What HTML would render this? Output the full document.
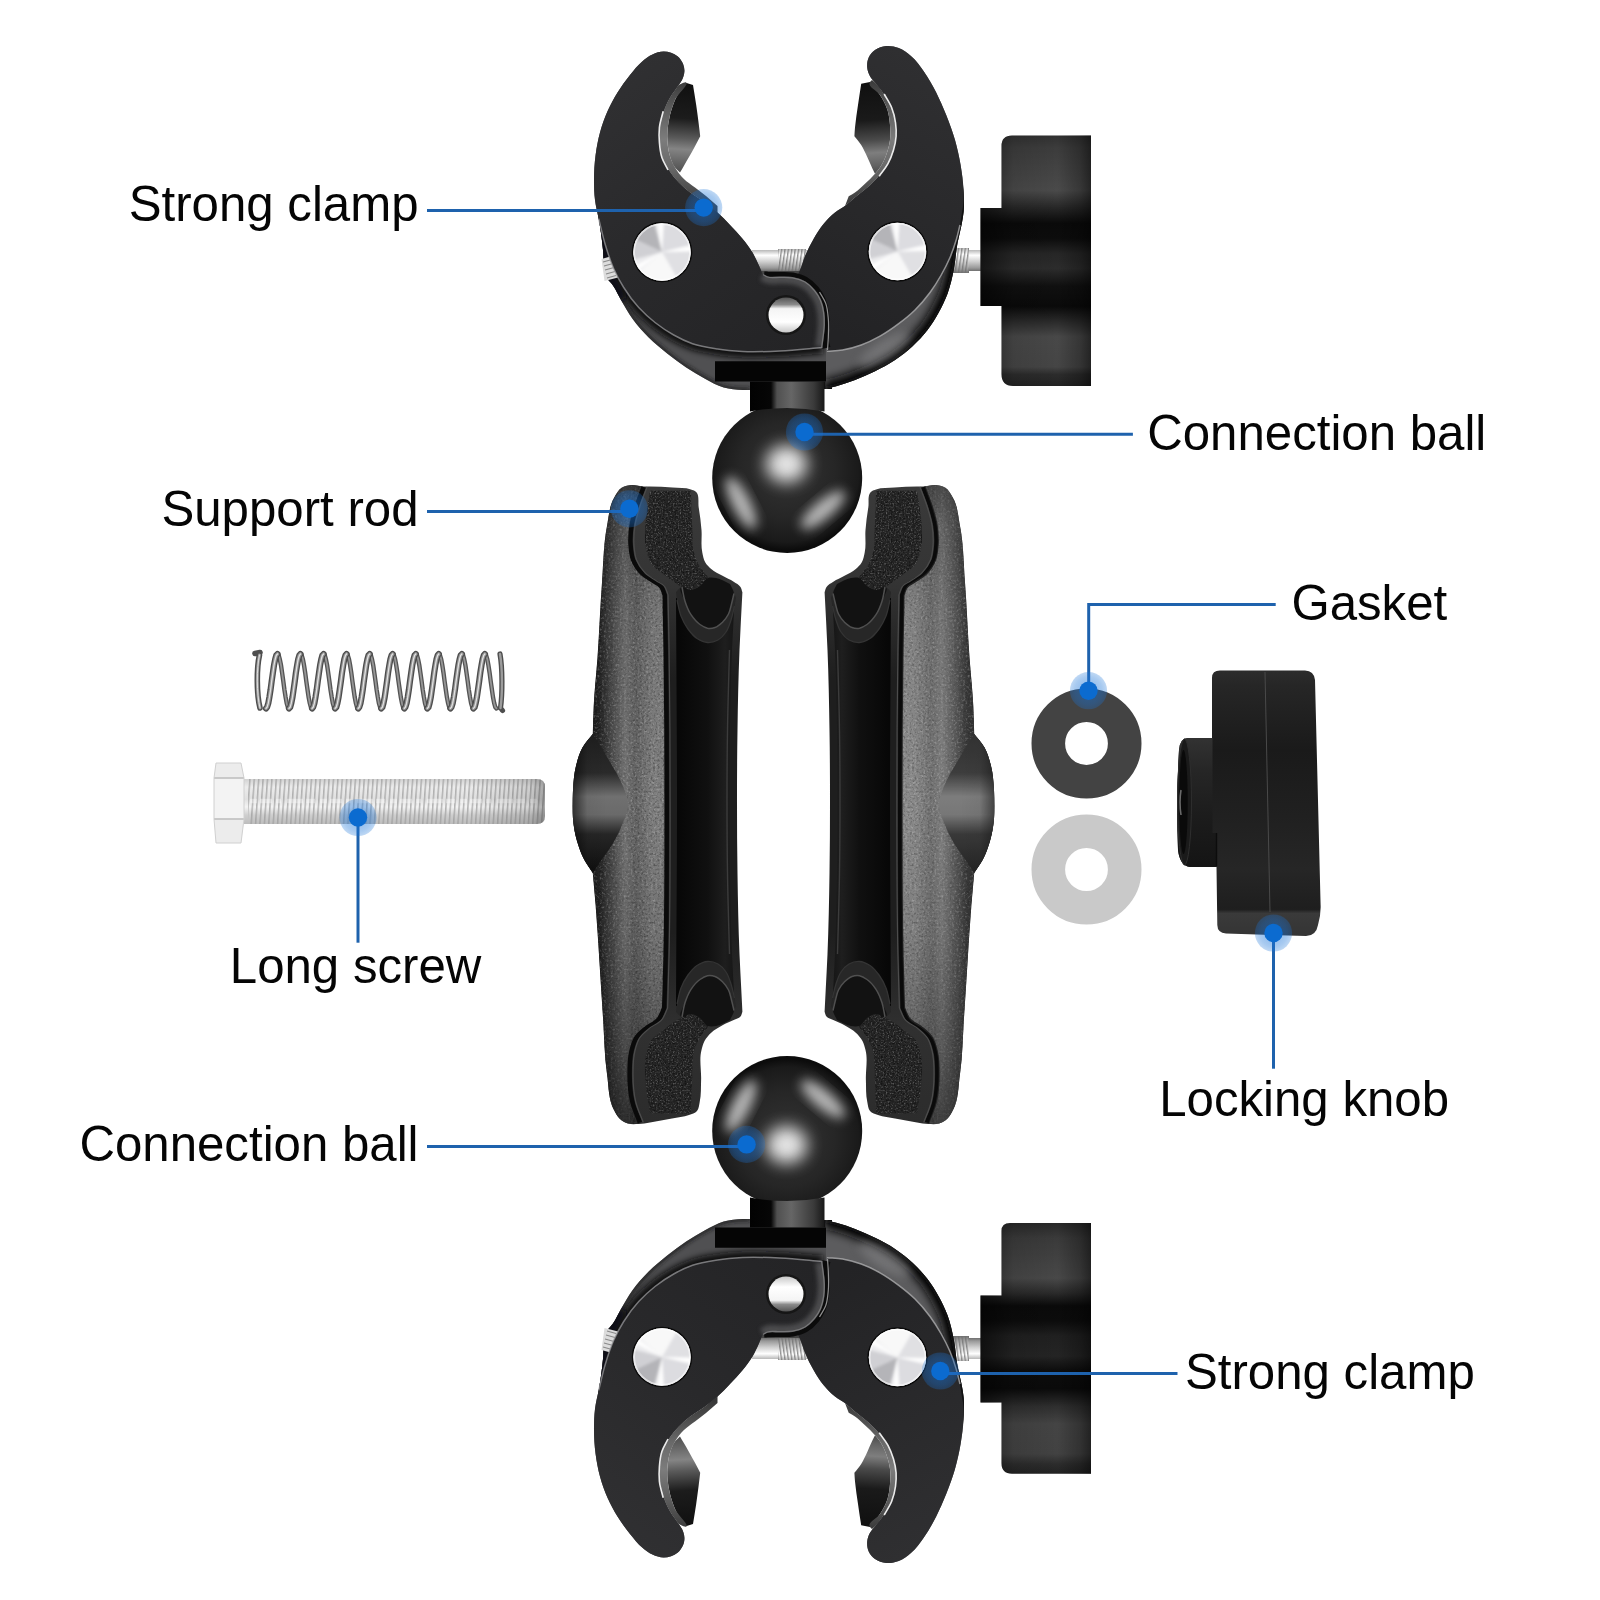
<!DOCTYPE html>
<html lang="en">
<head>
<meta charset="utf-8">
<title>Clamp mount parts</title>
<style>
html,body{margin:0;padding:0;background:#fff;}
body{width:1600px;height:1600px;overflow:hidden;position:relative;font-family:"Liberation Sans",Arial,sans-serif;}
svg{position:absolute;left:0;top:0;display:block;}
.lbl{font-family:"Liberation Sans",Arial,sans-serif;font-size:49.2px;fill:#050505;}
.ln{stroke:#1e62ad;stroke-width:3;fill:none;}
</style>
</head>
<body>
<svg width="1600" height="1600" viewBox="0 0 1600 1600">
<defs>
<radialGradient id="halo" cx="0.5" cy="0.5" r="0.5">
  <stop offset="0" stop-color="#1a74d8" stop-opacity="0.55"/>
  <stop offset="0.75" stop-color="#1a74d8" stop-opacity="0.38"/>
  <stop offset="1" stop-color="#1a74d8" stop-opacity="0.28"/>
</radialGradient>
<g id="dot">
  <circle r="18.6" fill="url(#halo)"/>
  <circle r="9.2" fill="#0b6bd0"/>
</g>

<!-- clamp gradients -->
<linearGradient id="gFaceL" gradientUnits="userSpaceOnUse" x1="600" y1="80" x2="800" y2="350">
  <stop offset="0" stop-color="#303032"/><stop offset="0.5" stop-color="#29292b"/><stop offset="1" stop-color="#242426"/>
</linearGradient>
<linearGradient id="gFaceR" gradientUnits="userSpaceOnUse" x1="830" y1="330" x2="960" y2="80">
  <stop offset="0" stop-color="#232325"/><stop offset="0.5" stop-color="#29292b"/><stop offset="1" stop-color="#2f2f31"/>
</linearGradient>
<linearGradient id="gThickR" gradientUnits="userSpaceOnUse" x1="880" y1="300" x2="915" y2="350">
  <stop offset="0" stop-color="#707072"/><stop offset="0.35" stop-color="#58585a"/><stop offset="0.7" stop-color="#2a2a2c"/><stop offset="1" stop-color="#0e0e10"/>
</linearGradient>
<linearGradient id="gThickL" gradientUnits="userSpaceOnUse" x1="690" y1="320" x2="672" y2="352">
  <stop offset="0" stop-color="#5a5a5c"/><stop offset="0.4" stop-color="#3e3e40"/><stop offset="1" stop-color="#121214"/>
</linearGradient>
<linearGradient id="gPadL" gradientUnits="userSpaceOnUse" x1="690" y1="84" x2="684" y2="175">
  <stop offset="0" stop-color="#101010"/><stop offset="0.38" stop-color="#1c1c1c"/><stop offset="0.6" stop-color="#5a5a5a"/><stop offset="0.72" stop-color="#848484"/><stop offset="0.85" stop-color="#686868"/><stop offset="1" stop-color="#4a4a4a"/>
</linearGradient>
<linearGradient id="gPadR" gradientUnits="userSpaceOnUse" x1="864" y1="84" x2="870" y2="175">
  <stop offset="0" stop-color="#101010"/><stop offset="0.4" stop-color="#1a1a1a"/><stop offset="0.62" stop-color="#4a4a4a"/><stop offset="0.76" stop-color="#7e7e7e"/><stop offset="0.9" stop-color="#626262"/><stop offset="1" stop-color="#484848"/>
</linearGradient>
<linearGradient id="gPad" gradientUnits="userSpaceOnUse" x1="0" y1="82" x2="0" y2="200">
  <stop offset="0" stop-color="#141414"/><stop offset="0.3" stop-color="#1c1c1c"/><stop offset="0.52" stop-color="#6a6a6a"/><stop offset="0.62" stop-color="#3a3a3a"/><stop offset="1" stop-color="#1a1a1a"/>
</linearGradient>
<linearGradient id="gBand" gradientUnits="userSpaceOnUse" x1="0" y1="80" x2="0" y2="212">
  <stop offset="0" stop-color="#3a3a3a"/><stop offset="0.2" stop-color="#5a5a5a"/><stop offset="0.45" stop-color="#7c7c7c"/><stop offset="0.65" stop-color="#6a6a6a"/><stop offset="0.85" stop-color="#4a4a4a"/><stop offset="1" stop-color="#333"/>
</linearGradient>
<linearGradient id="gRod" x1="0" y1="0" x2="0" y2="1">
  <stop offset="0" stop-color="#b8b8b8"/><stop offset="0.25" stop-color="#ffffff"/><stop offset="0.55" stop-color="#d0d0d0"/><stop offset="0.85" stop-color="#9a9a9a"/><stop offset="1" stop-color="#707070"/>
</linearGradient>
<pattern id="thr" patternUnits="userSpaceOnUse" width="3.4" height="30" patternTransform="skewX(-8)">
  <rect width="3.4" height="30" fill="none"/><rect x="0" width="1.3" height="30" fill="#6e6e6e" opacity="0.75"/>
</pattern>
<linearGradient id="gNeck" gradientUnits="userSpaceOnUse" x1="750" y1="0" x2="825" y2="0">
  <stop offset="0" stop-color="#020202"/><stop offset="0.28" stop-color="#060606"/><stop offset="0.36" stop-color="#505050"/><stop offset="0.55" stop-color="#666"/><stop offset="0.85" stop-color="#3a3a3a"/><stop offset="1" stop-color="#161616"/>
</linearGradient>
<radialGradient id="gBall" gradientUnits="userSpaceOnUse" cx="787" cy="470" r="80">
  <stop offset="0" stop-color="#343434"/><stop offset="0.6" stop-color="#262626"/><stop offset="0.9" stop-color="#1a1a1a"/><stop offset="1" stop-color="#0c0c0c"/>
</radialGradient>
<radialGradient id="gHi" cx="0.5" cy="0.5" r="0.5">
  <stop offset="0" stop-color="#fff" stop-opacity="0.95"/><stop offset="0.45" stop-color="#fff" stop-opacity="0.7"/><stop offset="1" stop-color="#fff" stop-opacity="0"/>
</radialGradient>
<linearGradient id="gScrew" x1="0.15" y1="0.1" x2="0.85" y2="0.9">
  <stop offset="0" stop-color="#ffffff"/><stop offset="0.45" stop-color="#ececec"/><stop offset="0.75" stop-color="#cfcfcf"/><stop offset="1" stop-color="#a8a8a8"/>
</linearGradient>
<linearGradient id="gPin" x1="0" y1="0" x2="0" y2="1">
  <stop offset="0" stop-color="#555"/><stop offset="0.2" stop-color="#8a8a8a"/><stop offset="0.32" stop-color="#f4f4f4"/><stop offset="0.7" stop-color="#ffffff"/><stop offset="1" stop-color="#c8c8c8"/>
</linearGradient>
<linearGradient id="gKnob" gradientUnits="userSpaceOnUse" x1="0" y1="135" x2="0" y2="387">
  <stop offset="0" stop-color="#303030"/><stop offset="0.05" stop-color="#3c3c3c"/><stop offset="0.22" stop-color="#4a4a4a"/><stop offset="0.29" stop-color="#262626"/>
  <stop offset="0.35" stop-color="#0a0a0a"/><stop offset="0.41" stop-color="#0c0c0c"/><stop offset="0.47" stop-color="#262626"/><stop offset="0.53" stop-color="#2c2c2c"/>
  <stop offset="0.6" stop-color="#101010"/><stop offset="0.68" stop-color="#0a0a0a"/><stop offset="0.74" stop-color="#2a2a2a"/><stop offset="0.8" stop-color="#484848"/>
  <stop offset="0.92" stop-color="#454545"/><stop offset="0.95" stop-color="#2c2c2c"/><stop offset="1" stop-color="#222"/>
</linearGradient>
<linearGradient id="gKnobB" gradientUnits="userSpaceOnUse" x1="0" y1="1223" x2="0" y2="1474">
  <stop offset="0" stop-color="#282828"/><stop offset="0.06" stop-color="#3a3a3a"/><stop offset="0.22" stop-color="#484848"/><stop offset="0.28" stop-color="#2a2a2a"/>
  <stop offset="0.33" stop-color="#0a0a0a"/><stop offset="0.39" stop-color="#0c0c0c"/><stop offset="0.45" stop-color="#202020"/><stop offset="0.53" stop-color="#242424"/>
  <stop offset="0.59" stop-color="#0c0c0c"/><stop offset="0.66" stop-color="#0a0a0a"/><stop offset="0.73" stop-color="#2e2e2e"/><stop offset="0.8" stop-color="#444"/>
  <stop offset="0.92" stop-color="#424242"/><stop offset="0.96" stop-color="#2c2c2c"/><stop offset="1" stop-color="#222"/>
</linearGradient>
<linearGradient id="gKnobX" gradientUnits="userSpaceOnUse" x1="980" y1="0" x2="1091" y2="0">
  <stop offset="0" stop-color="#000" stop-opacity="0.55"/><stop offset="0.3" stop-color="#000" stop-opacity="0.1"/><stop offset="0.7" stop-color="#000" stop-opacity="0"/><stop offset="0.9" stop-color="#000" stop-opacity="0.25"/><stop offset="1" stop-color="#000" stop-opacity="0.5"/>
</linearGradient>

<filter id="bl2" x="-0.2" y="-0.2" width="1.4" height="1.4"><feGaussianBlur stdDeviation="2"/></filter>
<filter id="bl3" x="-0.2" y="-0.2" width="1.4" height="1.4"><feGaussianBlur stdDeviation="3.2"/></filter>
<filter id="bl5" x="-0.3" y="-0.3" width="1.6" height="1.6"><feGaussianBlur stdDeviation="5"/></filter>
<filter id="bl6" x="-0.4" y="-0.4" width="1.8" height="1.8"><feGaussianBlur stdDeviation="6"/></filter>
<filter id="bl8" x="-0.4" y="-0.4" width="1.8" height="1.8"><feGaussianBlur stdDeviation="8"/></filter>
<clipPath id="cpRJ"><path d="M870 76.2C868.5 73.5 867.5 70.5 867.2 67.5C866.9 64.1 867.3 60.6 868.7 57.5C870.1 54.5 872.4 51.9 875 50C878.2 47.7 882.3 46.4 886.2 46C890.4 45.6 894.7 46.5 898.7 48C903.4 49.7 907.4 53 911.2 56.2C916.1 60.4 919.9 65.9 923.7 71.2C928.5 77.9 932.4 85.2 936.2 92.5C939.9 99.8 943.2 107.4 946.2 115C949.5 123.2 952.6 131.5 955 140C957.3 148.2 959.2 156.6 960.6 165C962 173.3 963 181.6 963.5 190C963.9 197 964.3 204 963.7 211C963.3 215.7 962.4 220.4 961.5 225C960.4 231 958.6 237 957.5 243C955.8 251.9 955.5 261.1 953.7 270C952.1 278 950.3 286 947.5 293.7C945.1 300.2 942 306.4 938.7 312.5C935.4 318.6 931.7 324.5 927.5 330C923 335.8 917.9 341.2 912.5 346.2C907 351.2 901.2 355.9 895 360C888.7 364.3 881.8 367.8 875 371.2C868.5 374.4 861.8 377.4 855 380C848.8 382.4 842.6 384.5 836.2 386.2C832.7 387.1 829.1 387.9 825.6 388.7L825 352C826 347.2 827.4 342.4 828 337.5C828.7 331.3 828.6 324.9 828 318.7C827.5 313.4 827 307.9 825 303C823.4 299 821.1 295.4 818.5 292C815.7 288.4 812.2 285.4 808.7 282.5C805.2 279.7 801.2 277.5 797.5 275C798.3 273.3 799.2 271.7 800 270C802 265.6 803.1 260.7 805 256.2C807.5 250.2 810.4 244.3 813.7 238.7C816.7 233.5 819.9 228.3 823.7 223.7C827.1 219.6 830.9 215.8 835 212.5C838.5 209.7 842.6 207.7 846.2 205C849.3 202.7 852 200 855 197.5C859.1 194.1 863.5 191.1 867.5 187.5C871.4 184 875.3 180.3 878.7 176.2C882 172.3 885.1 168.2 887.5 163.7C889.8 159.4 891.6 154.7 893 150C894.3 145.5 895.3 140.9 895.6 136.2C895.9 131.6 895.6 127 895 122.5C894.3 117.4 893.1 112.3 891.2 107.5C889.3 102.6 886.6 98.1 883.7 93.7C881.1 89.8 877.9 86.2 875 82.5C873.3 80.4 871.3 78.5 870 76.2Z"/></clipPath>
<clipPath id="cpLJ"><path d="M678.7 85C679.8 83.3 681.1 81.8 682 80C683.3 77.3 684.3 74.2 684.4 71.2C684.5 68.7 684 66.1 683 63.7C681.8 60.8 679.9 58.2 677.5 56.2C673.8 53.1 668.6 51.5 663.7 51.5C659.8 51.5 656 52.8 652.5 54.4C648.8 56 645.6 58.6 642.5 61.2C637.7 65.2 633.9 70.2 630 75C625.5 80.6 621.3 86.4 617.5 92.5C613.8 98.5 610.4 104.7 607.5 111.2C604.4 118.1 602 125.2 600 132.5C598 139.9 596.6 147.4 595.6 155C594.5 163.3 594 171.6 594 180C594 186.7 594.2 193.4 595 200C595.8 206.3 597.6 212.4 598.7 218.7C600.5 229.1 602.1 239.5 603 250C603.5 255.3 603.1 260.7 604 266C604.7 270.1 605.1 274.4 607 278C608.5 280.8 611.2 282.9 613 285.5C616.2 290 618.2 295.2 621 300C624.7 306.3 628.2 312.8 632.5 318.7C637.3 325.4 642.9 331.7 648.7 337.5C654.5 343.3 661 348.5 667.5 353.7C673.6 358.5 679.7 363.2 686.2 367.5C692.3 371.5 698.6 375.3 705 378.7C711.1 381.9 717.1 385.6 723.7 387.5C729.8 389.2 736.2 389.8 742.5 390C745 390.1 747.5 390 750 390L750 381.5L826 381.5L826 348C825.2 344.5 823.9 341.1 823.7 337.5C823.4 333.3 824.9 329.2 825 325C825.1 320.8 825 316.6 824.4 312.5C823.8 308.2 822.9 303.9 821.2 300C819.6 296.4 817.5 293 815 290C812.2 286.6 808.8 283.4 805 281.2C801.2 279 796.8 277.8 792.5 277C788.4 276.3 784.2 276.6 780 276.5C775.8 276.4 771.4 277.5 767.5 276.2C765.7 275.6 764.2 274.5 762.5 273.7C761.2 270.8 760 267.9 758.7 265C756.8 260.8 754.9 256.5 752.5 252.5C749.6 247.6 746.1 243.1 742.5 238.7C738.6 233.9 734.3 229.5 730 225C725.9 220.7 721.9 216.4 717.5 212.5C713.5 209 709.3 205.7 705 202.5C700.2 198.9 694.7 196.2 690 192.5C686 189.4 682.2 186.1 678.7 182.5C675 178.6 671.5 174.5 668.7 170C666.2 166.1 664 161.9 662.5 157.5C660.9 152.7 660.4 147.6 660 142.5C659.6 137.5 659.5 132.5 660 127.5C660.6 122 661.9 116.5 663.7 111.2C665.3 106.4 667.5 101.9 670 97.5C672.5 93.1 675.9 89.2 678.7 85Z"/></clipPath>
<clipPath id="cpLobe"><path d="M678.7 85C679.8 83.3 681.1 81.8 682 80C683.3 77.3 684.3 74.2 684.4 71.2C684.5 68.7 684 66.1 683 63.7C681.8 60.8 679.9 58.2 677.5 56.2C673.8 53.1 668.6 51.5 663.7 51.5C659.8 51.5 656 52.8 652.5 54.4C648.8 56 645.6 58.6 642.5 61.2C637.7 65.2 633.9 70.2 630 75C625.5 80.6 621.3 86.4 617.5 92.5C613.8 98.5 610.4 104.7 607.5 111.2C604.4 118.1 602 125.2 600 132.5C598 139.9 596.6 147.4 595.6 155C594.5 163.3 594 171.6 594 180C594 186.7 594.2 193.4 595 200C595.8 206.3 597.3 212.5 598.7 218.7C600.6 227.1 602.5 235.5 605 243.7C607.5 252.2 610.1 260.6 613.7 268.7C616.6 275.2 619.9 281.5 623.7 287.5C628.1 294.6 633.1 301.4 638.7 307.5C643.7 312.9 649.2 317.9 655 322.5C660.9 327.1 667.1 331.4 673.7 335C679.7 338.4 686 341.4 692.5 343.7C700.6 346.5 709.1 347.7 717.5 349C725.8 350.3 734.1 351 742.5 351.5C755 352.2 767.5 351.6 780 351C794.2 350.4 808.3 348.7 822.5 347.5C822.9 344.2 823.3 340.8 823.7 337.5C824.2 333.3 824.9 329.2 825 325C825.1 320.8 825 316.6 824.4 312.5C823.8 308.2 822.9 303.9 821.2 300C819.6 296.4 817.5 293 815 290C812.2 286.6 808.8 283.4 805 281.2C801.2 279 796.8 277.8 792.5 277C788.4 276.3 784.2 276.6 780 276.5C775.8 276.4 771.4 277.5 767.5 276.2C765.7 275.6 764.2 274.5 762.5 273.7C761.2 270.8 760 267.9 758.7 265C756.8 260.8 754.9 256.5 752.5 252.5C749.6 247.6 746.1 243.1 742.5 238.7C738.6 233.9 734.3 229.5 730 225C725.9 220.7 721.9 216.4 717.5 212.5C713.5 209 709.3 205.7 705 202.5C700.2 198.9 694.7 196.2 690 192.5C686 189.4 682.2 186.1 678.7 182.5C675 178.6 671.5 174.5 668.7 170C666.2 166.1 664 161.9 662.5 157.5C660.9 152.7 660.4 147.6 660 142.5C659.6 137.5 659.5 132.5 660 127.5C660.6 122 661.9 116.5 663.7 111.2C665.3 106.4 667.5 101.9 670 97.5C672.5 93.1 675.9 89.2 678.7 85Z"/></clipPath>
<clipPath id="cpBall"><circle cx="787.2" cy="478" r="75"/></clipPath>
<clipPath id="cpScrew"><circle r="28.7"/></clipPath>
<filter id="bl1" x="-0.3" y="-0.3" width="1.6" height="1.6"><feGaussianBlur stdDeviation="1.4"/></filter>
<g id="screw">
  <circle r="30.2" fill="#0a0a0a"/>
  <circle r="28.7" fill="#ececee"/>
  <g clip-path="url(#cpScrew)">
    <g filter="url(#bl1)">
      <path d="M0 0L-30.8 -14.4A34 34 0 0 1 -8.8 -32.8Z" fill="#b4b4b8"/>
      <path d="M0 0L-32.8 8.8A34 34 0 0 1 -30.8 -14.4Z" fill="#d0d0d4"/>
      <path d="M0 0L3.0 -33.9A34 34 0 0 1 32.8 -8.8Z" fill="#dcdce0"/>
      <path d="M0 0L34.0 0.0A34 34 0 0 1 17.0 29.4Z" fill="#e0e0e3"/>
      <path d="M0 0L17.0 29.4A34 34 0 0 1 -26.0 21.9Z" fill="#f8f8f8"/>
      <path d="M0 0L-4.7 -33.7A34 34 0 0 1 1.2 -34.0Z" fill="#ffffff"/>
      <path d="M0 0L-27.2 20.5A34 34 0 0 1 -30.3 15.4Z" fill="#ffffff"/>
      <path d="M0 0L33.3 -7.1A34 34 0 0 1 34.0 -1.2Z" fill="#ffffff"/>
    </g>
    <circle r="28" fill="none" stroke="#fff" stroke-width="2" opacity="0.55"/>
  </g>
</g>


<!-- rod gradients -->
<linearGradient id="gRodFace" gradientUnits="userSpaceOnUse" x1="588" y1="0" x2="668" y2="0">
  <stop offset="0" stop-color="#181818"/><stop offset="0.2" stop-color="#2c2c2c"/><stop offset="0.5" stop-color="#505050"/><stop offset="0.8" stop-color="#787878"/><stop offset="0.93" stop-color="#7a7a7a"/><stop offset="1" stop-color="#444"/>
</linearGradient>
<linearGradient id="gRodFaceV" gradientUnits="userSpaceOnUse" x1="0" y1="486" x2="0" y2="1123">
  <stop offset="0" stop-color="#000" stop-opacity="0.5"/><stop offset="0.06" stop-color="#000" stop-opacity="0.25"/><stop offset="0.2" stop-color="#000" stop-opacity="0.08"/><stop offset="0.5" stop-color="#000" stop-opacity="0"/>
  <stop offset="0.7" stop-color="#000" stop-opacity="0.1"/><stop offset="0.88" stop-color="#000" stop-opacity="0.35"/><stop offset="1" stop-color="#000" stop-opacity="0.6"/>
</linearGradient>
<linearGradient id="gRodTopFace" gradientUnits="userSpaceOnUse" x1="600" y1="0" x2="636" y2="0">
  <stop offset="0" stop-color="#fff" stop-opacity="0"/><stop offset="0.7" stop-color="#fff" stop-opacity="0.22"/><stop offset="1" stop-color="#fff" stop-opacity="0.05"/>
</linearGradient>
<linearGradient id="gRim" gradientUnits="userSpaceOnUse" x1="0" y1="486" x2="0" y2="1124">
  <stop offset="0" stop-color="#3a3a3a"/><stop offset="0.15" stop-color="#343434"/><stop offset="0.3" stop-color="#1e1e1e"/><stop offset="0.7" stop-color="#1e1e1e"/><stop offset="0.85" stop-color="#303030"/><stop offset="1" stop-color="#2c2c2c"/>
</linearGradient>
<linearGradient id="gSlot" gradientUnits="userSpaceOnUse" x1="675" y1="0" x2="734" y2="0">
  <stop offset="0" stop-color="#060606"/><stop offset="0.55" stop-color="#101010"/><stop offset="0.85" stop-color="#1e1e1e"/><stop offset="1" stop-color="#161616"/>
</linearGradient>
<linearGradient id="gBulge" gradientUnits="userSpaceOnUse" x1="0" y1="734" x2="0" y2="873">
  <stop offset="0" stop-color="#1e1e1e"/><stop offset="0.28" stop-color="#2a2a2a"/><stop offset="0.45" stop-color="#707070"/><stop offset="0.58" stop-color="#6a6a6a"/><stop offset="0.72" stop-color="#262626"/><stop offset="1" stop-color="#0e0e0e"/>
</linearGradient>
<linearGradient id="gBulgeX" gradientUnits="userSpaceOnUse" x1="573" y1="0" x2="630" y2="0">
  <stop offset="0" stop-color="#000" stop-opacity="0.55"/><stop offset="0.25" stop-color="#000" stop-opacity="0.05"/><stop offset="0.6" stop-color="#000" stop-opacity="0"/><stop offset="1" stop-color="#6c6c6c" stop-opacity="0"/>
</linearGradient>
<filter id="grain" x="0" y="0" width="1" height="1" color-interpolation-filters="sRGB">
  <feTurbulence type="fractalNoise" baseFrequency="0.45" numOctaves="2" seed="7" result="n1"/>
  <feColorMatrix in="n1" type="matrix" values="0 0 0 0 0  0 0 0 0 0  0 0 0 0 0  0 0 0 0.9 -0.42" result="dk"/>
  <feTurbulence type="fractalNoise" baseFrequency="0.45" numOctaves="2" seed="23" result="n2"/>
  <feColorMatrix in="n2" type="matrix" values="0 0 0 0 1  0 0 0 0 1  0 0 0 0 1  0 0 0 0.7 -0.36" result="lt"/>
  <feMerge result="m"><feMergeNode in="SourceGraphic"/><feMergeNode in="dk"/><feMergeNode in="lt"/></feMerge>
  <feComposite in="m" in2="SourceGraphic" operator="in"/>
</filter>
<filter id="grain2" x="0" y="0" width="1" height="1" color-interpolation-filters="sRGB">
  <feTurbulence type="fractalNoise" baseFrequency="0.6" numOctaves="2" seed="11" result="n1"/>
  <feColorMatrix in="n1" type="matrix" values="0 0 0 0 0  0 0 0 0 0  0 0 0 0 0  0 0 0 1.4 -0.6" result="dk"/>
  <feTurbulence type="fractalNoise" baseFrequency="0.6" numOctaves="2" seed="31" result="n2"/>
  <feColorMatrix in="n2" type="matrix" values="0 0 0 0 1  0 0 0 0 1  0 0 0 0 1  0 0 0 0.8 -0.42" result="lt"/>
  <feMerge result="m"><feMergeNode in="SourceGraphic"/><feMergeNode in="dk"/><feMergeNode in="lt"/></feMerge>
  <feComposite in="m" in2="SourceGraphic" operator="in"/>
</filter>
<g id="rod">
  <path d="M573 804.5C573 799.9 572.8 795.2 573 790.6C573.4 782.3 574 774 576 766C577.6 759.7 579.3 753.2 582.5 747.5C585.2 742.5 589.4 738.5 592.8 734C593.1 724.7 593.2 715.3 593.7 706C594.5 689.8 596.3 673.7 597.5 657.5C599.3 632.5 600.1 607.5 602 582.5C603.4 563.6 603.4 544.6 607 526C608.8 516.6 609.2 506.3 614 498C616.2 494.2 618.2 489.8 622 487.5C624.9 485.7 628.6 485.2 632 485C635.5 484.8 639 486.3 642.5 486.5C645 486.6 647.5 486.5 650 486.5C657.5 486.6 665 486.9 672.5 487.5C678.7 488 685.2 487.4 691 489.5C692.5 490.1 694.2 490.5 695.5 491.5C699.9 494.7 697.8 502.1 698.7 507.5C700 515 700.9 522.5 701.5 530C702.1 537.5 700.7 545.2 702.3 552.5C703 555.8 703.5 559.3 705.2 562.2C706.7 564.8 708.9 567 711.2 569C714.5 571.9 718.7 573.6 722.5 575.7C726.2 577.8 730.2 579.3 733.7 581.7C736.1 583.3 739 584.6 740.5 587C741.5 588.6 741.8 590.5 742.4 592.2C741.4 611.5 740.3 630.7 739.5 650C738.4 676.7 737.9 703.3 737.5 730C737.1 754 737 778 737 802C737 826 737.1 850 737.5 874C737.9 900.7 738.4 927.3 739.5 954C740 966 740.7 978 741.3 990C741.7 997.2 742 1004.5 742.4 1011.7C741.8 1013.3 741.6 1015.1 740.5 1016.5C738.9 1018.5 736 1018.9 733.7 1020C730 1021.8 726.1 1023.2 722.5 1025.2C718.5 1027.4 714.5 1029.6 711.2 1032.7C708.6 1035.1 706.2 1037.9 704.5 1041C703 1043.8 702.3 1046.9 701.5 1050C699 1059.7 701.5 1070 701.1 1080C700.8 1087.3 701.3 1094.8 699.7 1102C699 1105.1 699 1108.6 697 1111C695.1 1113.3 691.8 1113.9 689 1115C683.6 1117.1 677.7 1117.4 672 1118.5C664.7 1119.9 657.4 1121.4 650 1122.5C646.2 1123.1 642.5 1123.8 638.7 1124C635.1 1124.1 631.4 1124.5 628 1123.5C625.1 1122.6 622.3 1121 620 1119C617.3 1116.6 615.7 1113.2 614 1110C608.2 1099.3 608.8 1086.1 607 1074C604.3 1055.3 604.3 1036.3 603 1017.5C601.7 998.7 600.6 979.8 599.4 961C598.2 942.3 597.1 923.6 595.6 905C594.7 894.3 593.7 883.7 592.8 873C590 868.7 586.8 864.6 584.4 860C581.2 854 578.9 847.5 577 841C574.9 833.7 573.5 826.2 573 818.7C572.7 814 573 809.2 573 804.5Z" fill="url(#gRim)"/>
  <g filter="url(#grain)">
    <path d="M573 804.5C573 799.9 572.8 795.2 573 790.6C573.4 782.3 574 774 576 766C577.6 759.7 579.3 753.2 582.5 747.5C585.2 742.5 589.4 738.5 592.8 734C593.1 724.7 593.2 715.3 593.7 706C594.5 689.8 596.3 673.7 597.5 657.5C599.3 632.5 600.1 607.5 602 582.5C603.4 563.6 603.4 544.6 607 526C608.8 516.6 609.2 506.3 614 498C616.2 494.2 618.2 489.8 622 487.5C624.9 485.7 628.6 485.2 632 485C635.5 484.8 639 486 642.5 486.5C640 493.5 637.1 500.4 635 507.5C633.2 513.6 631.2 519.7 630.3 526C629.4 532.3 628.9 538.7 629.4 545C629.8 550.1 630.1 555.3 632 560C633.9 564.8 636.9 569.3 640.6 573C643.9 576.3 648.2 578.4 652 581C654.7 582.8 658 584 660 586.5C661.9 588.9 662.3 592.2 663.5 595C663.8 613.3 664.2 631.7 664.5 650C665.3 700.7 665.5 751.3 665.5 802C665.5 852.7 665.6 903.3 664.5 954C664.1 972 663.5 990 663 1008C661.2 1011.8 660.1 1016.1 657.5 1019.4C654.2 1023.6 648.5 1025.2 644.4 1028.7C641 1031.6 637.4 1034.3 635 1038C632.5 1041.9 631.4 1046.5 630.3 1051C628.4 1058.4 628.4 1066.1 628.4 1073.7C628.4 1083.2 629 1092.8 631.2 1102C632.9 1109.4 636.2 1116.3 638.7 1123.5C635.1 1123.5 631.4 1124.5 628 1123.5C625.1 1122.7 622.3 1121 620 1119C617.3 1116.6 615.7 1113.2 614 1110C608.2 1099.3 608.8 1086.1 607 1074C604.3 1055.3 604.3 1036.3 603 1017.5C601.7 998.7 600.6 979.8 599.4 961C598.2 942.3 597.1 923.6 595.6 905C594.7 894.3 593.7 883.7 592.8 873C590 868.7 586.8 864.6 584.4 860C581.2 854 578.9 847.5 577 841C574.9 833.7 573.5 826.2 573 818.7C572.7 814 573 809.2 573 804.5Z" fill="url(#gRodFace)"/>
  </g>
  <path d="M573 804.5C573 799.9 572.8 795.2 573 790.6C573.4 782.3 574 774 576 766C577.6 759.7 579.3 753.2 582.5 747.5C585.2 742.5 589.4 738.5 592.8 734C593.1 724.7 593.2 715.3 593.7 706C594.5 689.8 596.3 673.7 597.5 657.5C599.3 632.5 600.1 607.5 602 582.5C603.4 563.6 603.4 544.6 607 526C608.8 516.6 609.2 506.3 614 498C616.2 494.2 618.2 489.8 622 487.5C624.9 485.7 628.6 485.2 632 485C635.5 484.8 639 486 642.5 486.5C640 493.5 637.1 500.4 635 507.5C633.2 513.6 631.2 519.7 630.3 526C629.4 532.3 628.9 538.7 629.4 545C629.8 550.1 630.1 555.3 632 560C633.9 564.8 636.9 569.3 640.6 573C643.9 576.3 648.2 578.4 652 581C654.7 582.8 658 584 660 586.5C661.9 588.9 662.3 592.2 663.5 595C663.8 613.3 664.2 631.7 664.5 650C665.3 700.7 665.5 751.3 665.5 802C665.5 852.7 665.6 903.3 664.5 954C664.1 972 663.5 990 663 1008C661.2 1011.8 660.1 1016.1 657.5 1019.4C654.2 1023.6 648.5 1025.2 644.4 1028.7C641 1031.6 637.4 1034.3 635 1038C632.5 1041.9 631.4 1046.5 630.3 1051C628.4 1058.4 628.4 1066.1 628.4 1073.7C628.4 1083.2 629 1092.8 631.2 1102C632.9 1109.4 636.2 1116.3 638.7 1123.5C635.1 1123.5 631.4 1124.5 628 1123.5C625.1 1122.7 622.3 1121 620 1119C617.3 1116.6 615.7 1113.2 614 1110C608.2 1099.3 608.8 1086.1 607 1074C604.3 1055.3 604.3 1036.3 603 1017.5C601.7 998.7 600.6 979.8 599.4 961C598.2 942.3 597.1 923.6 595.6 905C594.7 894.3 593.7 883.7 592.8 873C590 868.7 586.8 864.6 584.4 860C581.2 854 578.9 847.5 577 841C574.9 833.7 573.5 826.2 573 818.7C572.7 814 573 809.2 573 804.5Z" fill="url(#gRodTopFace)"/>
  <path d="M573 804.5C573 799.9 572.8 795.2 573 790.6C573.4 782.3 574 774 576 766C577.6 759.7 579.3 753.2 582.5 747.5C585.2 742.5 589.4 738.5 592.8 734C593.1 724.7 593.2 715.3 593.7 706C594.5 689.8 596.3 673.7 597.5 657.5C599.3 632.5 600.1 607.5 602 582.5C603.4 563.6 603.4 544.6 607 526C608.8 516.6 609.2 506.3 614 498C616.2 494.2 618.2 489.8 622 487.5C624.9 485.7 628.6 485.2 632 485C635.5 484.8 639 486 642.5 486.5C640 493.5 637.1 500.4 635 507.5C633.2 513.6 631.2 519.7 630.3 526C629.4 532.3 628.9 538.7 629.4 545C629.8 550.1 630.1 555.3 632 560C633.9 564.8 636.9 569.3 640.6 573C643.9 576.3 648.2 578.4 652 581C654.7 582.8 658 584 660 586.5C661.9 588.9 662.3 592.2 663.5 595C663.8 613.3 664.2 631.7 664.5 650C665.3 700.7 665.5 751.3 665.5 802C665.5 852.7 665.6 903.3 664.5 954C664.1 972 663.5 990 663 1008C661.2 1011.8 660.1 1016.1 657.5 1019.4C654.2 1023.6 648.5 1025.2 644.4 1028.7C641 1031.6 637.4 1034.3 635 1038C632.5 1041.9 631.4 1046.5 630.3 1051C628.4 1058.4 628.4 1066.1 628.4 1073.7C628.4 1083.2 629 1092.8 631.2 1102C632.9 1109.4 636.2 1116.3 638.7 1123.5C635.1 1123.5 631.4 1124.5 628 1123.5C625.1 1122.7 622.3 1121 620 1119C617.3 1116.6 615.7 1113.2 614 1110C608.2 1099.3 608.8 1086.1 607 1074C604.3 1055.3 604.3 1036.3 603 1017.5C601.7 998.7 600.6 979.8 599.4 961C598.2 942.3 597.1 923.6 595.6 905C594.7 894.3 593.7 883.7 592.8 873C590 868.7 586.8 864.6 584.4 860C581.2 854 578.9 847.5 577 841C574.9 833.7 573.5 826.2 573 818.7C572.7 814 573 809.2 573 804.5Z" fill="url(#gRodFaceV)"/>
  <path d="M592.8 734C589.4 738.5 585.2 742.5 582.5 747.5C579.3 753.2 577.6 759.7 576 766C574 774 573.5 782.4 573 790.6C572.4 799.9 572.1 809.4 573 818.7C573.7 826.2 574.9 833.7 577 841C578.9 847.5 581.2 854 584.4 860C586.8 864.6 590 868.7 592.8 873C595.2 869.3 597.6 865.6 600 862C603.9 856.2 608.4 850.9 612 845C615.8 838.6 619.3 831.9 622 825C624.6 818.4 628 811.6 628 804.5C628 797.4 624.7 790.6 622 784C618.9 776.3 614.1 769.3 610 762C606.7 756.3 603.5 750.6 600 745C597.7 741.3 595.2 737.7 592.8 734Z" fill="url(#gBulge)"/>
  <path d="M592.8 734C589.4 738.5 585.2 742.5 582.5 747.5C579.3 753.2 577.6 759.7 576 766C574 774 573.5 782.4 573 790.6C572.4 799.9 572.1 809.4 573 818.7C573.7 826.2 574.9 833.7 577 841C578.9 847.5 581.2 854 584.4 860C586.8 864.6 590 868.7 592.8 873C595.2 869.3 597.6 865.6 600 862C603.9 856.2 608.4 850.9 612 845C615.8 838.6 619.3 831.9 622 825C624.6 818.4 628 811.6 628 804.5C628 797.4 624.7 790.6 622 784C618.9 776.3 614.1 769.3 610 762C606.7 756.3 603.5 750.6 600 745C597.7 741.3 595.2 737.7 592.8 734Z" fill="url(#gBulgeX)"/>
  <path d="M642.5 487C640 493.8 637.1 500.5 635 507.5C633.1 513.6 631.2 519.7 630.3 526C629.4 532.3 628.9 538.7 629.4 545C629.8 550.1 630.1 555.3 632 560C633.9 564.8 636.9 569.3 640.6 573C643.9 576.3 648.2 578.4 652 581C654.7 582.8 658 584 660 586.5C661.9 588.9 662.3 592.2 663.5 595C663.8 613.3 664.2 631.7 664.5 650C665.3 700.7 665.5 751.3 665.5 802C665.5 852.7 665.6 903.3 664.5 954C664.1 972 663.5 990 663 1008C661.2 1011.8 660.1 1016.1 657.5 1019.4C654.2 1023.6 648.5 1025.2 644.4 1028.7C641 1031.6 637.4 1034.3 635 1038C632.5 1041.9 631.4 1046.5 630.3 1051C628.4 1058.4 628.4 1066.1 628.4 1073.7C628.4 1083.2 628.9 1092.8 631.2 1102C632.9 1109.1 636.2 1115.7 638.7 1122.5" fill="none" stroke="#0a0a0a" stroke-width="4.5" transform="translate(1.2 0)"/>
  <path d="M642.5 487C640 493.8 637.1 500.5 635 507.5C633.1 513.6 631.2 519.7 630.3 526C629.4 532.3 628.9 538.7 629.4 545C629.8 550.1 630.1 555.3 632 560C633.9 564.8 636.9 569.3 640.6 573C643.9 576.3 648.2 578.4 652 581C654.7 582.8 658 584 660 586.5C661.9 588.9 662.3 592.2 663.5 595C663.8 613.3 664.2 631.7 664.5 650C665.3 700.7 665.5 751.3 665.5 802C665.5 852.7 665.6 903.3 664.5 954C664.1 972 663.5 990 663 1008C661.2 1011.8 660.1 1016.1 657.5 1019.4C654.2 1023.6 648.5 1025.2 644.4 1028.7C641 1031.6 637.4 1034.3 635 1038C632.5 1041.9 631.4 1046.5 630.3 1051C628.4 1058.4 628.4 1066.1 628.4 1073.7C628.4 1083.2 628.9 1092.8 631.2 1102C632.9 1109.1 636.2 1115.7 638.7 1122.5" fill="none" stroke="#4c4c4c" stroke-width="1.2" transform="translate(4.6 0)"/>
  <g filter="url(#grain2)" opacity="1">
    <path d="M650 490.6C648.7 499.4 646.9 508.1 646 517C645.6 521.3 645.1 525.7 645 530C644.8 537.5 644.7 545.3 646.7 552.5C647.8 556.4 649 560.4 651.2 563.7C654 567.8 658.6 570.4 662.5 573.5C666.1 576.4 669.9 579.1 673.7 581.7C676.4 583.5 679.1 585.6 682 587C684.6 588.3 687.2 589.9 690 590C693.6 590.1 697 588 700 586C703.2 583.9 708.4 581.8 708 578C707.8 575.6 705.1 574 703.7 572C701.9 569.3 700 566.6 698.5 563.7C696.6 560.1 695.1 556.4 694 552.5C692 545.3 692.9 537.5 692.5 530C692.1 522.5 691.8 515 691.5 507.5C691.3 501.9 691.2 496.2 691 490.6L650 490.6Z" fill="#262626"/>
    <path d="M691 1113.4C691.2 1107.8 691.3 1102.1 691.5 1096.5C691.8 1089 692.1 1081.5 692.5 1074C692.9 1066.5 692 1058.7 694 1051.5C695.1 1047.6 696.6 1043.9 698.5 1040.3C700 1037.4 701.9 1034.7 703.7 1032C705.1 1030 707.8 1028.4 708 1026C708.4 1022.2 703.2 1020.1 700 1018C697 1016 693.6 1013.9 690 1014C687.2 1014.1 684.6 1015.7 682 1017C679.1 1018.4 676.4 1020.5 673.7 1022.3C669.9 1024.9 666.1 1027.6 662.5 1030.5C658.6 1033.6 654 1036.2 651.2 1040.3C649 1043.6 647.8 1047.6 646.7 1051.5C644.7 1058.7 644.8 1066.5 645 1074C645.1 1078.3 645.6 1082.7 646 1087C646.9 1095.9 648.7 1104.6 650 1113.4L691 1113.4Z" fill="#262626"/>
  </g>
  <path d="M676 598L735 594C734 612.7 732.8 631.3 732 650C730.9 676.7 730.4 703.3 730 730C729.6 754 729.5 778 729.5 802C729.5 826 729.6 850 730 874C730.4 900.7 730.9 927.3 732 954C732.8 972.7 734 991.3 735 1010L676 1006C676.3 938 677 870 677 802C677 734 676.3 666 676 598Z" fill="url(#gSlot)"/>
  <path d="M729.5 650C728.8 676.7 727.9 703.3 727.5 730C727.1 754 727 778 727 802C727 826 727.1 850 727.5 874C727.9 900.7 728.8 927.3 729.5 954" fill="none" stroke="#3c3c3c" stroke-width="1.4"/>
  <path d="M682 587C686.8 586.4 683.5 596.6 685 601.2C686.5 605.9 688.3 610.6 691 614.7C693.5 618.4 696.3 622 700 624.5C702.3 626.1 704.8 627.7 707.5 628.2C710 628.6 712.6 628.3 715 627.5C717.9 626.5 720.3 624.3 722.5 622.2C724.9 619.8 727 617 728.5 614C730.1 610.9 730.6 607.4 731.5 604C732.4 600.5 731.3 591.1 734 593.5C735.2 594.6 735.3 596.5 736 598C735.5 600.7 735.1 603.3 734.5 606C733.5 610.7 732.5 615.4 731 620C729.6 624.1 728.5 628.4 726 632C723.9 635.1 721.3 638.2 718 640C714.8 641.7 711.1 642.7 707.5 642.5C703.8 642.3 700.2 640.5 697 638.5C693.3 636.1 690.6 632.5 688 629C685.1 625 682.8 620.6 681 616C679 610.9 677.9 605.4 677 600C676.6 597.3 676.3 594.7 676 592C678 590.3 679.4 587.3 682 587Z" fill="#272727"/>
  <path d="M676 1012C676.3 1009.3 676.6 1006.7 677 1004C677.9 998.6 679 993.1 681 988C682.8 983.4 685.1 979 688 975C690.6 971.5 693.3 967.9 697 965.5C700.2 963.5 703.8 961.7 707.5 961.5C711.1 961.3 714.8 962.3 718 964C721.3 965.8 723.9 968.9 726 972C728.5 975.6 729.6 979.9 731 984C732.5 988.6 733.5 993.3 734.5 998C735.1 1000.7 735.5 1003.3 736 1006C735.3 1007.5 735.2 1009.4 734 1010.5C731.3 1012.9 732.4 1003.5 731.5 1000C730.6 996.6 730.1 993.1 728.5 990C727 987 724.9 984.2 722.5 981.8C720.3 979.7 717.9 977.5 715 976.5C712.6 975.7 710 975.4 707.5 975.8C704.8 976.3 702.3 977.9 700 979.5C696.3 982 693.5 985.6 691 989.3C688.3 993.4 686.5 998.1 685 1002.8C683.5 1007.4 686.8 1017.6 682 1017C679.4 1016.7 678 1013.7 676 1012Z" fill="#272727"/>
  <path d="M682 587C677.3 588.3 683.5 596.6 685 601.2C686.5 605.9 688.3 610.6 691 614.7C693.5 618.4 696.3 622 700 624.5C702.3 626.1 704.8 627.7 707.5 628.2C710 628.6 712.6 628.3 715 627.5C717.9 626.5 720.3 624.3 722.5 622.2C724.9 619.8 727 617 728.5 614C730.1 610.9 730.6 607.4 731.5 604C732.4 600.5 734.3 597.1 734 593.5C733.7 590.1 731.3 587.2 730 584C725.3 582 721 578.7 716 578C713.4 577.6 710.5 577.2 708 578C704.4 579.2 703.2 583.9 700 586C697 588 693.6 590.1 690 590C687.2 589.9 684.7 586.2 682 587Z" fill="#121212"/>
  <path d="M690 1014C693.6 1013.9 697 1016 700 1018C703.2 1020.1 704.4 1024.8 708 1026C710.5 1026.8 713.4 1026.4 716 1026C721 1025.3 725.3 1022 730 1020C731.3 1016.8 733.7 1013.9 734 1010.5C734.3 1006.9 732.4 1003.5 731.5 1000C730.6 996.6 730.1 993.1 728.5 990C727 987 724.9 984.2 722.5 981.8C720.3 979.7 717.9 977.5 715 976.5C712.6 975.7 710 975.4 707.5 975.8C704.8 976.3 702.3 977.9 700 979.5C696.3 982 693.5 985.6 691 989.3C688.3 993.4 686.5 998.1 685 1002.8C683.5 1007.4 677.3 1015.7 682 1017C684.7 1017.8 687.2 1014.1 690 1014Z" fill="#121212"/>
  <path d="M677 600C678.3 605.3 679 610.9 681 616C682.8 620.6 685.1 625 688 629C690.6 632.5 693.3 636.1 697 638.5C700.2 640.5 703.8 642.3 707.5 642.5C711.1 642.7 714.8 641.7 718 640C721.3 638.2 723.9 635.1 726 632C728.5 628.4 729.6 624.1 731 620C732.5 615.4 733.3 610.7 734.5 606" fill="none" stroke="#343434" stroke-width="1.3"/>
  <path d="M734.5 998C733.3 993.3 732.5 988.6 731 984C729.6 979.9 728.5 975.6 726 972C723.9 968.9 721.3 965.8 718 964C714.8 962.3 711.1 961.3 707.5 961.5C703.8 961.7 700.2 963.5 697 965.5C693.3 967.9 690.6 971.5 688 975C685.1 979 682.8 983.4 681 988C679 993.1 678.3 998.7 677 1004" fill="none" stroke="#343434" stroke-width="1.3"/>
  <path d="M682 587C683 591.7 683.5 596.6 685 601.2C686.5 605.9 688.3 610.6 691 614.7C693.5 618.4 696.3 622 700 624.5C702.3 626.1 704.8 627.7 707.5 628.2C710 628.6 712.6 628.3 715 627.5C717.9 626.5 720.3 624.3 722.5 622.2C724.9 619.8 727 617 728.5 614C730.1 610.9 730.6 607.4 731.5 604C732.4 600.5 733.2 597 734 593.5" fill="none" stroke="#505050" stroke-width="1.5"/>
  <path d="M734 1010.5C733.2 1007 732.4 1003.5 731.5 1000C730.6 996.6 730.1 993.1 728.5 990C727 987 724.9 984.2 722.5 981.8C720.3 979.7 717.9 977.5 715 976.5C712.6 975.7 710 975.4 707.5 975.8C704.8 976.3 702.3 977.9 700 979.5C696.3 982 693.5 985.6 691 989.3C688.3 993.4 686.5 998.1 685 1002.8C683.5 1007.4 683 1012.3 682 1017" fill="none" stroke="#505050" stroke-width="1.5"/>
</g>
<g id="clamp">
  <!-- threaded rod -->
  <rect x="752" y="250" width="229" height="21" fill="url(#gRod)"/>
  <rect x="778" y="249" width="28" height="23" fill="url(#gRod)"/>
  <rect x="778" y="249" width="28" height="23" fill="url(#thr)"/>
  <rect x="950" y="248" width="19" height="25" fill="url(#gRod)"/>
  <rect x="950" y="248" width="19" height="25" fill="url(#thr)"/>
  <rect x="754" y="271" width="52" height="6" fill="#444"/>
  <!-- right jaw -->
  <path d="M818 284H832V389H818Z" fill="#0c0c0c"/>
  <path d="M861.2 83.7L870 82C873.3 86.3 877.1 90.4 880 95C883 99.7 885.8 104.7 887.5 110C889 114.8 889.6 119.9 890 125C890.4 130 890.6 135 890 140C889.4 145.1 888 150.2 886.2 155C884.6 159.4 882.6 163.7 880 167.5C878.5 169.7 876.7 171.6 875 173.7C874.2 172 873.3 170.4 872.5 168.7C870.7 165 869.2 161.2 867.5 157.5C865.5 153.3 863.7 148.9 861.2 145C859.2 141.9 856.7 139.1 854.4 136.2C854.6 133.3 854.7 130.4 855 127.5C855.7 120 856.9 112.5 858 105C859 97.9 860.1 90.8 861.2 83.7Z" fill="url(#gPadR)"/>
  <path d="M870 82C866.8 86.5 877.1 90.4 880 95C883 99.7 885.8 104.7 887.5 110C889 114.8 889.6 119.9 890 125C890.4 130 890.6 135 890 140C889.4 145.1 888 150.2 886.2 155C884.6 159.4 882.6 163.7 880 167.5C878.5 169.7 876.7 171.7 875 173.7C871.9 177.3 868.4 180.5 865 183.7C861.8 186.7 858.7 190 855 192.5C853 193.9 850.8 195 848.7 196.2L845 206C845.4 205.7 845.8 205.3 846.2 205C849.2 202.5 852 200 855 197.5C859.1 194.1 863.5 191.1 867.5 187.5C871.4 184 875.3 180.3 878.7 176.2C882 172.3 885.1 168.2 887.5 163.7C889.8 159.4 891.6 154.7 893 150C894.3 145.5 895.3 140.9 895.6 136.2C895.9 131.6 895.6 127 895 122.5C894.3 117.4 893.1 112.3 891.2 107.5C889.3 102.6 886.6 98.1 883.7 93.7C881.1 89.8 878.5 85.7 875 82.5C874 81.6 873 80.8 872 80C871.3 80.7 870.5 81.2 870 82Z" fill="url(#gBand)"/>
  <path d="M870 76.2C868.5 73.5 867.5 70.5 867.2 67.5C866.9 64.1 867.3 60.6 868.7 57.5C870.1 54.5 872.4 51.9 875 50C878.2 47.7 882.3 46.4 886.2 46C890.4 45.6 894.7 46.5 898.7 48C903.4 49.7 907.4 53 911.2 56.2C916.1 60.4 919.9 65.9 923.7 71.2C928.5 77.9 932.4 85.2 936.2 92.5C939.9 99.8 943.2 107.4 946.2 115C949.5 123.2 952.6 131.5 955 140C957.3 148.2 959.2 156.6 960.6 165C962 173.3 963 181.6 963.5 190C963.9 197 964.3 204 963.7 211C963.3 215.7 962.4 220.4 961.5 225C960.4 231 958.6 237 957.5 243C955.8 251.9 955.5 261.1 953.7 270C952.1 278 950.3 286 947.5 293.7C945.1 300.2 942 306.4 938.7 312.5C935.4 318.6 931.7 324.5 927.5 330C923 335.8 917.9 341.2 912.5 346.2C907 351.2 901.2 355.9 895 360C888.7 364.3 881.8 367.8 875 371.2C868.5 374.4 861.8 377.4 855 380C848.8 382.4 842.6 384.5 836.2 386.2C832.7 387.1 829.1 387.9 825.6 388.7L825 352C826 347.2 827.4 342.4 828 337.5C828.7 331.3 828.6 324.9 828 318.7C827.5 313.4 827 307.9 825 303C823.4 299 821.1 295.4 818.5 292C815.7 288.4 812.2 285.4 808.7 282.5C805.2 279.7 801.2 277.5 797.5 275C798.3 273.3 799.2 271.7 800 270C802 265.6 803.1 260.7 805 256.2C807.5 250.2 810.4 244.3 813.7 238.7C816.7 233.5 819.9 228.3 823.7 223.7C827.1 219.6 830.9 215.8 835 212.5C838.5 209.7 842.6 207.7 846.2 205C849.3 202.7 852 200 855 197.5C859.1 194.1 863.5 191.1 867.5 187.5C871.4 184 875.3 180.3 878.7 176.2C882 172.3 885.1 168.2 887.5 163.7C889.8 159.4 891.6 154.7 893 150C894.3 145.5 895.3 140.9 895.6 136.2C895.9 131.6 895.6 127 895 122.5C894.3 117.4 893.1 112.3 891.2 107.5C889.3 102.6 886.6 98.1 883.7 93.7C881.1 89.8 877.9 86.2 875 82.5C873.3 80.4 871.3 78.5 870 76.2Z" fill="#5c5c5e"/>
  <g clip-path="url(#cpRJ)">
    <path d="M963.5 190C963.6 197 964.3 204 963.7 211C963.3 215.7 962.4 220.4 961.5 225C960.4 231 958.6 237 957.5 243C955.8 251.9 955.5 261.1 953.7 270C952.1 278 950.3 286 947.5 293.7C945.1 300.2 942 306.4 938.7 312.5C935.4 318.6 931.7 324.5 927.5 330C923 335.8 917.9 341.2 912.5 346.2C907 351.2 901.2 355.9 895 360C888.7 364.3 881.8 367.8 875 371.2C868.5 374.4 861.8 377.4 855 380C848.8 382.4 842.6 384.5 836.2 386.2C832.7 387.1 829.1 387.9 825.6 388.7" fill="none" stroke="#0a0a0c" stroke-width="18" filter="url(#bl5)"/>
    <path d="M963.5 190C963.6 197 964.3 204 963.7 211C963.3 215.7 962.4 220.4 961.5 225C960.4 231 958.6 237 957.5 243C955.8 251.9 955.5 261.1 953.7 270C952.1 278 950.3 286 947.5 293.7C945.1 300.2 942 306.4 938.7 312.5C935.4 318.6 931.7 324.5 927.5 330C923 335.8 917.9 341.2 912.5 346.2C907 351.2 901.2 355.9 895 360C888.7 364.3 881.8 367.8 875 371.2C868.5 374.4 861.8 377.4 855 380C848.8 382.4 842.6 384.5 836.2 386.2C832.7 387.1 829.1 387.9 825.6 388.7" fill="none" stroke="#0a0a0c" stroke-width="5" filter="url(#bl2)"/>
    <ellipse cx="885" cy="350" rx="30" ry="9" fill="#8a8a8c" opacity="0.55" filter="url(#bl5)" transform="rotate(-32 885 350)"/>
  </g>
  <path d="M870 76.2C868.5 73.5 867.5 70.5 867.2 67.5C866.9 64.1 867.3 60.6 868.7 57.5C870.1 54.5 872.4 51.9 875 50C878.2 47.7 882.3 46.4 886.2 46C890.4 45.6 894.7 46.5 898.7 48C903.4 49.7 907.4 53 911.2 56.2C916.1 60.4 919.9 65.9 923.7 71.2C928.5 77.9 932.4 85.2 936.2 92.5C939.9 99.8 943.2 107.4 946.2 115C949.5 123.2 952.6 131.5 955 140C957.3 148.2 959.2 156.6 960.6 165C962 173.3 963.2 181.6 963.5 190C963.7 195 963.8 200 963.2 205C962.9 207.5 962.3 210 961.9 212.5C961.2 216.7 960.8 220.9 960 225C959 230.1 957.7 235.1 956.2 240C954.4 245.9 952.4 251.8 950 257.5C947.4 263.5 944.4 269.3 941.2 275C937.8 281 934.1 286.9 930 292.5C925.4 298.7 920.5 304.6 915 310C909.9 315 904.4 319.4 898.7 323.7C892.7 328.2 886.5 332.5 880 336.2C874 339.6 867.7 342.7 861.2 345C855.1 347.2 848.9 349 842.5 350C837.4 350.8 832.1 350.8 826.9 351.2C827.3 346.6 827.8 342.1 828 337.5C828.3 331.2 828.6 324.9 828 318.7C827.5 313.4 827 307.9 825 303C823.4 299 821.1 295.4 818.5 292C815.7 288.4 812.2 285.4 808.7 282.5C805.2 279.7 801.2 277.5 797.5 275C798.3 273.3 799.2 271.7 800 270C802 265.6 803.1 260.7 805 256.2C807.5 250.2 810.4 244.3 813.7 238.7C816.7 233.5 819.9 228.3 823.7 223.7C827.1 219.6 830.9 215.8 835 212.5C838.5 209.7 842.6 207.7 846.2 205C849.3 202.7 852 200 855 197.5C859.1 194.1 863.5 191.1 867.5 187.5C871.4 184 875.3 180.3 878.7 176.2C882 172.3 885.1 168.2 887.5 163.7C889.8 159.4 891.6 154.7 893 150C894.3 145.5 895.3 140.9 895.6 136.2C895.9 131.6 895.6 127 895 122.5C894.3 117.4 893.1 112.3 891.2 107.5C889.3 102.6 886.6 98.1 883.7 93.7C881.1 89.8 877.9 86.2 875 82.5C873.3 80.4 871.3 78.5 870 76.2Z" fill="url(#gFaceR)"/>
  <path d="M960 225C958.7 230 957.7 235.1 956.2 240C954.4 245.9 952.4 251.8 950 257.5C947.4 263.5 944.4 269.3 941.2 275C937.8 281 934.1 286.9 930 292.5C925.4 298.7 920.5 304.6 915 310C909.9 315 904.4 319.4 898.7 323.7C892.7 328.2 886.5 332.5 880 336.2C874 339.6 867.7 342.7 861.2 345C855.1 347.2 848.9 349 842.5 350C837.4 350.8 832.1 350.8 826.9 351.2" fill="none" stroke="#b4b4b6" stroke-width="1.5" opacity="0.75"/>
  <path d="M884.2 94C886.7 98.6 889.8 102.9 891.7 107.7C893.6 112.4 894.8 117.5 895.5 122.5C896.1 127 896.4 131.6 896.1 136.2C895.8 140.9 894.8 145.5 893.5 150C892.1 154.7 890.3 159.4 888 163.7C885.6 168.2 882.1 172 879.2 176.2" fill="none" stroke="#fff" stroke-width="1.6" opacity="0.9"/>
  <!-- base block, neck, ball -->
    <circle cx="787.2" cy="478" r="75" fill="url(#gBall)"/>
  <g clip-path="url(#cpBall)">
  <ellipse cx="786.5" cy="464" rx="21" ry="19" fill="#fff" opacity="0.82" filter="url(#bl8)"/>
  <ellipse cx="786.5" cy="464" rx="9" ry="8" fill="#fff" opacity="0.25" filter="url(#bl5)"/>
  <ellipse cx="741" cy="503" rx="9" ry="29" fill="#fff" opacity="0.68" filter="url(#bl6)" transform="rotate(-27 741 503)"/>
  <ellipse cx="823" cy="510" rx="9" ry="28" fill="#fff" opacity="0.68" filter="url(#bl6)" transform="rotate(50 823 510)"/>
  </g>
  <path d="M750 377V411.5Q787 404.5 824.5 411.5V377Z" fill="url(#gNeck)"/>
  <!-- left jaw -->
  <path d="M685 82.5L693 85C694.1 91.7 695.2 98.3 696.2 105C697.1 111.2 697.9 117.5 698.7 123.7C699.2 127.9 699.7 132 700.2 136.2C698.5 139.5 696.8 142.9 695 146.2C693 150 690.8 153.7 688.7 157.5C687 160.4 685.4 163.3 683.7 166.2C682.5 168.3 681.2 170.4 680 172.5C678.3 170.8 676.4 169.4 675 167.5C672.5 164.2 671.2 160.1 670 156.2C668.6 151.8 667.9 147.1 667.5 142.5C667.1 138.3 667.2 134.2 667.5 130C667.9 124.9 668.8 119.9 670 115C671.3 109.9 672.9 104.8 675 100C677.7 93.8 681.7 88.3 685 82.5Z" fill="url(#gPadL)"/>
  <path d="M685 82.5C691.7 81.8 677.7 93.8 675 100C672.9 104.8 671.3 109.9 670 115C668.8 119.9 667.9 124.9 667.5 130C667.2 134.2 667.1 138.3 667.5 142.5C667.9 147.1 668.6 151.8 670 156.2C671.2 160.1 672.9 163.9 675 167.5C677.4 171.6 680.4 175.4 683.7 178.7C687.1 182.1 691.2 184.6 695 187.5C698.7 190.3 702.4 193.1 706 196C709.9 199.2 713.7 202.7 717.5 206L717.5 214C713.3 210.2 709.4 206 705 202.5C700.3 198.8 694.7 196.2 690 192.5C686 189.4 682.2 186.1 678.7 182.5C675 178.6 671.5 174.5 668.7 170C666.2 166.1 664 161.9 662.5 157.5C660.9 152.7 660.4 147.6 660 142.5C659.6 137.5 659.5 132.5 660 127.5C660.6 122 661.9 116.5 663.7 111.2C665.3 106.4 667.5 101.9 670 97.5C672.5 93.1 675.8 89.2 678.7 85C680.8 84.2 682.8 82.7 685 82.5Z" fill="url(#gBand)"/>
  <path d="M678.7 85C679.8 83.3 681.1 81.8 682 80C683.3 77.3 684.3 74.2 684.4 71.2C684.5 68.7 684 66.1 683 63.7C681.8 60.8 679.9 58.2 677.5 56.2C673.8 53.1 668.6 51.5 663.7 51.5C659.8 51.5 656 52.8 652.5 54.4C648.8 56 645.6 58.6 642.5 61.2C637.7 65.2 633.9 70.2 630 75C625.5 80.6 621.3 86.4 617.5 92.5C613.8 98.5 610.4 104.7 607.5 111.2C604.4 118.1 602 125.2 600 132.5C598 139.9 596.6 147.4 595.6 155C594.5 163.3 594 171.6 594 180C594 186.7 594.2 193.4 595 200C595.8 206.3 597.6 212.4 598.7 218.7C600.5 229.1 602.1 239.5 603 250C603.5 255.3 603.1 260.7 604 266C604.7 270.1 605.1 274.4 607 278C608.5 280.8 611.2 282.9 613 285.5C616.2 290 618.2 295.2 621 300C624.7 306.3 628.2 312.8 632.5 318.7C637.3 325.4 642.9 331.7 648.7 337.5C654.5 343.3 661 348.5 667.5 353.7C673.6 358.5 679.7 363.2 686.2 367.5C692.3 371.5 698.6 375.3 705 378.7C711.1 381.9 717.1 385.6 723.7 387.5C729.8 389.2 736.2 389.8 742.5 390C745 390.1 747.5 390 750 390L750 381.5L826 381.5L826 348C825.2 344.5 823.9 341.1 823.7 337.5C823.4 333.3 824.9 329.2 825 325C825.1 320.8 825 316.6 824.4 312.5C823.8 308.2 822.9 303.9 821.2 300C819.6 296.4 817.5 293 815 290C812.2 286.6 808.8 283.4 805 281.2C801.2 279 796.8 277.8 792.5 277C788.4 276.3 784.2 276.6 780 276.5C775.8 276.4 771.4 277.5 767.5 276.2C765.7 275.6 764.2 274.5 762.5 273.7C761.2 270.8 760 267.9 758.7 265C756.8 260.8 754.9 256.5 752.5 252.5C749.6 247.6 746.1 243.1 742.5 238.7C738.6 233.9 734.3 229.5 730 225C725.9 220.7 721.9 216.4 717.5 212.5C713.5 209 709.3 205.7 705 202.5C700.2 198.9 694.7 196.2 690 192.5C686 189.4 682.2 186.1 678.7 182.5C675 178.6 671.5 174.5 668.7 170C666.2 166.1 664 161.9 662.5 157.5C660.9 152.7 660.4 147.6 660 142.5C659.6 137.5 659.5 132.5 660 127.5C660.6 122 661.9 116.5 663.7 111.2C665.3 106.4 667.5 101.9 670 97.5C672.5 93.1 675.9 89.2 678.7 85Z" fill="#505052"/>
  <g clip-path="url(#cpLJ)">
    <path d="M598.7 218.7C600.8 227 602.5 235.5 605 243.7C607.5 252.2 610.1 260.6 613.7 268.7C616.6 275.2 619.9 281.5 623.7 287.5C628.1 294.6 633.1 301.4 638.7 307.5C643.7 312.9 649.2 317.9 655 322.5C660.9 327.1 667.1 331.4 673.7 335C679.7 338.4 686 341.4 692.5 343.7C700.6 346.5 709.1 347.7 717.5 349C725.8 350.3 734.1 351 742.5 351.5C755 352.2 767.5 351.6 780 351C794.2 350.4 808.3 348.7 822.5 347.5" fill="none" stroke="#0e0e10" stroke-width="12" filter="url(#bl3)"/>
    <path d="M598.7 218.7C600.1 229.1 602.1 239.5 603 250C603.5 255.3 603.1 260.7 604 266C604.7 270.1 605.1 274.4 607 278C608.5 280.8 611.2 282.9 613 285.5C616.2 290 618.2 295.2 621 300C624.7 306.3 628.2 312.8 632.5 318.7C637.3 325.4 642.9 331.7 648.7 337.5C654.5 343.3 661 348.5 667.5 353.7C673.6 358.5 679.7 363.2 686.2 367.5C692.3 371.5 698.6 375.3 705 378.7C711.1 381.9 717.1 385.6 723.7 387.5C729.8 389.2 736.2 389.8 742.5 390C745 390.1 747.5 390 750 390" fill="none" stroke="#1a1a1c" stroke-width="4" filter="url(#bl2)"/>
    <path d="M598 215C600 250 606 275 622 300" fill="none" stroke="#101012" stroke-width="14" filter="url(#bl3)"/>
  </g>
  <path d="M715 361.2H826V381.5H715Z" fill="#050505"/>
  <path d="M601.5 259L611.2 256.2L618 277.5L604.5 281Z" fill="#dcdcdc"/>
  <path d="M603 262L612 259.5M604 266L613 263.5M605 270L614 267.5M606 274L615 271.5M607 278L616 275.5" stroke="#8a8a8a" stroke-width="1.2"/>
  <path d="M826 348C825.2 344.5 823.9 341.1 823.7 337.5C823.4 333.3 824.9 329.2 825 325C825.1 320.8 825 316.6 824.4 312.5C823.8 308.2 822.9 303.9 821.2 300C819.6 296.4 817.5 293 815 290C812.2 286.6 808.8 283.4 805 281.2C801.2 279 796.8 277.8 792.5 277C788.4 276.3 784.2 276.6 780 276.5C775.8 276.4 771.7 276.4 767.5 276.2C766.3 276.1 765.2 276.1 764 276" fill="none" stroke="#0b0b0b" stroke-width="9"/>
  <path d="M827.5 350C827.8 345.8 828.1 341.7 828.3 337.5C828.5 331.2 828.9 324.9 828.3 318.7C827.8 313.4 827.5 308 825.6 303C824.1 299.1 821.5 295.7 819.5 292" fill="none" stroke="#b0b0b0" stroke-width="1.2" opacity="0.8"/>
  <path d="M678.7 85C679.8 83.3 681.1 81.8 682 80C683.3 77.3 684.3 74.2 684.4 71.2C684.5 68.7 684 66.1 683 63.7C681.8 60.8 679.9 58.2 677.5 56.2C673.8 53.1 668.6 51.5 663.7 51.5C659.8 51.5 656 52.8 652.5 54.4C648.8 56 645.6 58.6 642.5 61.2C637.7 65.2 633.9 70.2 630 75C625.5 80.6 621.3 86.4 617.5 92.5C613.8 98.5 610.4 104.7 607.5 111.2C604.4 118.1 602 125.2 600 132.5C598 139.9 596.6 147.4 595.6 155C594.5 163.3 594 171.6 594 180C594 186.7 594.2 193.4 595 200C595.8 206.3 597.3 212.5 598.7 218.7C600.6 227.1 602.5 235.5 605 243.7C607.5 252.2 610.1 260.6 613.7 268.7C616.6 275.2 619.9 281.5 623.7 287.5C628.1 294.6 633.1 301.4 638.7 307.5C643.7 312.9 649.2 317.9 655 322.5C660.9 327.1 667.1 331.4 673.7 335C679.7 338.4 686 341.4 692.5 343.7C700.6 346.5 709.1 347.7 717.5 349C725.8 350.3 734.1 351 742.5 351.5C755 352.2 767.5 351.6 780 351C794.2 350.4 808.3 348.7 822.5 347.5C822.9 344.2 823.3 340.8 823.7 337.5C824.2 333.3 824.9 329.2 825 325C825.1 320.8 825 316.6 824.4 312.5C823.8 308.2 822.9 303.9 821.2 300C819.6 296.4 817.5 293 815 290C812.2 286.6 808.8 283.4 805 281.2C801.2 279 796.8 277.8 792.5 277C788.4 276.3 784.2 276.6 780 276.5C775.8 276.4 771.4 277.5 767.5 276.2C765.7 275.6 764.2 274.5 762.5 273.7C761.2 270.8 760 267.9 758.7 265C756.8 260.8 754.9 256.5 752.5 252.5C749.6 247.6 746.1 243.1 742.5 238.7C738.6 233.9 734.3 229.5 730 225C725.9 220.7 721.9 216.4 717.5 212.5C713.5 209 709.3 205.7 705 202.5C700.2 198.9 694.7 196.2 690 192.5C686 189.4 682.2 186.1 678.7 182.5C675 178.6 671.5 174.5 668.7 170C666.2 166.1 664 161.9 662.5 157.5C660.9 152.7 660.4 147.6 660 142.5C659.6 137.5 659.5 132.5 660 127.5C660.6 122 661.9 116.5 663.7 111.2C665.3 106.4 667.5 101.9 670 97.5C672.5 93.1 675.9 89.2 678.7 85Z" fill="url(#gFaceL)"/>
  <g clip-path="url(#cpLobe)"><path d="M763 274.5C764.5 275.3 765.9 276.4 767.5 277C771.4 278.5 775.8 277.2 780 277.3C784.2 277.4 788.4 277.1 792.5 277.8C796.8 278.6 801.2 279.8 805 282C808.7 284.2 811.7 287.3 814.4 290.6C816.8 293.5 818.9 296.8 820.4 300.3C822.1 304.2 823 308.3 823.6 312.5C824.2 316.6 824.3 320.8 824.2 325C824.1 329.2 823.5 333.3 823 337.5C822.6 340.7 822.1 343.8 821.7 347" fill="none" stroke="#58585a" stroke-width="13" opacity="0.75" filter="url(#bl2)"/></g>
  <path d="M598.7 218.7C600.8 227 602.5 235.5 605 243.7C607.5 252.2 610.1 260.6 613.7 268.7C616.6 275.2 619.9 281.5 623.7 287.5C628.1 294.6 633.1 301.4 638.7 307.5C643.7 312.9 649.2 317.9 655 322.5C660.9 327.1 667.1 331.4 673.7 335C679.7 338.4 686 341.4 692.5 343.7C700.6 346.5 709.1 347.7 717.5 349C725.8 350.3 734.1 351 742.5 351.5C755 352.2 767.5 351.6 780 351C794.2 350.4 808.3 348.7 822.5 347.5" fill="none" stroke="#a0a0a2" stroke-width="1.5" opacity="0.7"/>
  <path d="M763 274.5C764.5 275.3 765.9 276.4 767.5 277C771.4 278.5 775.8 277.2 780 277.3C784.2 277.4 788.4 277.1 792.5 277.8C796.8 278.6 801.2 279.8 805 282C808.7 284.2 811.7 287.3 814.4 290.6C816.8 293.5 818.9 296.8 820.4 300.3C822.1 304.2 823 308.3 823.6 312.5C824.2 316.6 824.3 320.8 824.2 325C824.1 329.2 823.5 333.3 823 337.5C822.6 340.7 822.1 343.8 821.7 347" fill="none" stroke="#8a8a8c" stroke-width="1.3" opacity="0.7"/>
  <path d="M663.2 111.2C661.9 116.6 660 122 659.4 127.5C658.9 132.5 659 137.5 659.4 142.5C659.8 147.6 660.3 152.7 661.9 157.5C663.3 161.9 666 165.8 668 170" fill="none" stroke="#fff" stroke-width="1.6" opacity="0.9"/>
  <!-- screws -->
  <use href="#screw" x="662" y="252"/>
  <use href="#screw" x="897.5" y="251.5"/>
  <circle cx="786" cy="315" r="20" fill="#161616"/>
  <circle cx="786" cy="315" r="17.5" fill="url(#gPin)"/>
</g>
</defs>

<use href="#rod"/>
<use href="#rod" transform="translate(1567 0) scale(-1 1)"/>
<path d="M573 804.5C573 799.9 572.8 795.2 573 790.6C573.4 782.3 574 774 576 766C577.6 759.7 579.3 753.2 582.5 747.5C585.2 742.5 589.4 738.5 592.8 734C593.1 724.7 593.2 715.3 593.7 706C594.5 689.8 596.3 673.7 597.5 657.5C599.3 632.5 600.1 607.5 602 582.5C603.4 563.6 603.4 544.6 607 526C608.8 516.6 609.2 506.3 614 498C616.2 494.2 618.2 489.8 622 487.5C624.9 485.7 628.6 485.2 632 485C635.5 484.8 639 486 642.5 486.5C640 493.5 637.1 500.4 635 507.5C633.2 513.6 631.2 519.7 630.3 526C629.4 532.3 628.9 538.7 629.4 545C629.8 550.1 630.1 555.3 632 560C633.9 564.8 636.9 569.3 640.6 573C643.9 576.3 648.2 578.4 652 581C654.7 582.8 658 584 660 586.5C661.9 588.9 662.3 592.2 663.5 595C663.8 613.3 664.2 631.7 664.5 650C665.3 700.7 665.5 751.3 665.5 802C665.5 852.7 665.6 903.3 664.5 954C664.1 972 663.5 990 663 1008C661.2 1011.8 660.1 1016.1 657.5 1019.4C654.2 1023.6 648.5 1025.2 644.4 1028.7C641 1031.6 637.4 1034.3 635 1038C632.5 1041.9 631.4 1046.5 630.3 1051C628.4 1058.4 628.4 1066.1 628.4 1073.7C628.4 1083.2 629 1092.8 631.2 1102C632.9 1109.4 636.2 1116.3 638.7 1123.5C635.1 1123.5 631.4 1124.5 628 1123.5C625.1 1122.7 622.3 1121 620 1119C617.3 1116.6 615.7 1113.2 614 1110C608.2 1099.3 608.8 1086.1 607 1074C604.3 1055.3 604.3 1036.3 603 1017.5C601.7 998.7 600.6 979.8 599.4 961C598.2 942.3 597.1 923.6 595.6 905C594.7 894.3 593.7 883.7 592.8 873C590 868.7 586.8 864.6 584.4 860C581.2 854 578.9 847.5 577 841C574.9 833.7 573.5 826.2 573 818.7C572.7 814 573 809.2 573 804.5Z" fill="#fff" opacity="0.09" transform="translate(1567 0) scale(-1 1)"/>

<use href="#clamp"/>
<use href="#clamp" transform="translate(0 1609) scale(1 -1)"/>


<!-- knobs -->
<path d="M980.5 208H1001.5V146Q1001.5 135.5 1012 135.5H1091V386H1013Q1001.5 386 1001.5 374V306H980.5Z" fill="url(#gKnob)"/>
<path d="M980.5 208H1001.5V146Q1001.5 135.5 1012 135.5H1091V386H1013Q1001.5 386 1001.5 374V306H980.5Z" fill="url(#gKnobX)"/>
<path d="M980.5 1295.6H1001.5V1231Q1001.5 1223 1010 1223H1091V1473.7H1012Q1001.5 1473.7 1001.5 1463V1402.5H980.5Z" fill="url(#gKnobB)"/>
<path d="M980.5 1295.6H1001.5V1231Q1001.5 1223 1010 1223H1091V1473.7H1012Q1001.5 1473.7 1001.5 1463V1402.5H980.5Z" fill="url(#gKnobX)"/>
<!-- spring -->
<g fill="none" stroke-linecap="round">
  <path d="M277.5 654L278.7 655.3L279.8 659.2L281 665.2L282.1 672.8L283.3 681.2L284.4 689.6L285.6 697.2L286.7 703.2L287.9 707.1L289 708.4M300.5 654L301.7 655.3L302.9 659.2L304 665.2L305.2 672.8L306.3 681.2L307.5 689.6L308.6 697.2L309.8 703.2L310.9 707.1L312.1 708.4M323.6 654L324.8 655.3L325.9 659.2L327.1 665.2L328.2 672.8L329.4 681.2L330.5 689.6L331.7 697.2L332.8 703.2L334 707.1L335.1 708.4M346.6 654L347.8 655.3L349 659.2L350.1 665.2L351.3 672.8L352.4 681.2L353.6 689.6L354.7 697.2L355.9 703.2L357 707.1L358.2 708.4M369.7 654L370.9 655.3L372 659.2L373.2 665.2L374.3 672.8L375.5 681.2L376.6 689.6L377.8 697.2L378.9 703.2L380.1 707.1L381.2 708.4M392.7 654L393.9 655.3L395.1 659.2L396.2 665.2L397.4 672.8L398.5 681.2L399.7 689.6L400.8 697.2L402 703.2L403.1 707.1L404.3 708.4M415.8 654L417 655.3L418.1 659.2L419.3 665.2L420.4 672.8L421.6 681.2L422.7 689.6L423.9 697.2L425 703.2L426.2 707.1L427.3 708.4M438.8 654L440 655.3L441.2 659.2L442.3 665.2L443.5 672.8L444.6 681.2L445.8 689.6L446.9 697.2L448.1 703.2L449.2 707.1L450.4 708.4M461.9 654L463.1 655.3L464.2 659.2L465.4 665.2L466.5 672.8L467.7 681.2L468.8 689.6L470 697.2L471.1 703.2L472.3 707.1L473.4 708.4M484.9 654L486.1 655.3L487.3 659.2L488.4 665.2L489.6 672.8L490.7 681.2L491.9 689.6L493 697.2L494.2 703.2L495.3 707.1L496.5 708.4" stroke="#545454" stroke-width="4.4"/>
  <path d="M277.5 654L278.7 655.3L279.8 659.2L281 665.2L282.1 672.8L283.3 681.2L284.4 689.6L285.6 697.2L286.7 703.2L287.9 707.1L289 708.4M300.5 654L301.7 655.3L302.9 659.2L304 665.2L305.2 672.8L306.3 681.2L307.5 689.6L308.6 697.2L309.8 703.2L310.9 707.1L312.1 708.4M323.6 654L324.8 655.3L325.9 659.2L327.1 665.2L328.2 672.8L329.4 681.2L330.5 689.6L331.7 697.2L332.8 703.2L334 707.1L335.1 708.4M346.6 654L347.8 655.3L349 659.2L350.1 665.2L351.3 672.8L352.4 681.2L353.6 689.6L354.7 697.2L355.9 703.2L357 707.1L358.2 708.4M369.7 654L370.9 655.3L372 659.2L373.2 665.2L374.3 672.8L375.5 681.2L376.6 689.6L377.8 697.2L378.9 703.2L380.1 707.1L381.2 708.4M392.7 654L393.9 655.3L395.1 659.2L396.2 665.2L397.4 672.8L398.5 681.2L399.7 689.6L400.8 697.2L402 703.2L403.1 707.1L404.3 708.4M415.8 654L417 655.3L418.1 659.2L419.3 665.2L420.4 672.8L421.6 681.2L422.7 689.6L423.9 697.2L425 703.2L426.2 707.1L427.3 708.4M438.8 654L440 655.3L441.2 659.2L442.3 665.2L443.5 672.8L444.6 681.2L445.8 689.6L446.9 697.2L448.1 703.2L449.2 707.1L450.4 708.4M461.9 654L463.1 655.3L464.2 659.2L465.4 665.2L466.5 672.8L467.7 681.2L468.8 689.6L470 697.2L471.1 703.2L472.3 707.1L473.4 708.4M484.9 654L486.1 655.3L487.3 659.2L488.4 665.2L489.6 672.8L490.7 681.2L491.9 689.6L493 697.2L494.2 703.2L495.3 707.1L496.5 708.4" stroke="#969696" stroke-width="1.8"/>
  <path d="M259.5 655C256.5 668 256.5 694 260 708M255 653.5L260 652.5" stroke="#4e4e4e" stroke-width="5.6"/>
  <path d="M259.5 655C256.5 668 256.5 694 260 708" stroke="#a0a0a0" stroke-width="2.8"/>
  <path d="M259.5 655C256.5 668 256.5 694 260 708" stroke="#e0e0e0" stroke-width="1"/>
  <path d="M500 654C502.5 668 502.5 694 500.5 708M500.5 708L502.5 710.5" stroke="#4e4e4e" stroke-width="5.2"/>
  <path d="M500 654C502.5 668 502.5 694 500.5 708" stroke="#9c9c9c" stroke-width="2.4"/>
  <path d="M266 708.4L267.1 707.1L268.3 703.2L269.4 697.2L270.6 689.6L271.7 681.2L272.9 672.8L274 665.2L275.2 659.2L276.3 655.3L277.5 654M289 708.4L290.2 707.1L291.3 703.2L292.5 697.2L293.6 689.6L294.8 681.2L295.9 672.8L297.1 665.2L298.2 659.2L299.4 655.3L300.5 654M312.1 708.4L313.2 707.1L314.4 703.2L315.5 697.2L316.7 689.6L317.8 681.2L319 672.8L320.1 665.2L321.3 659.2L322.4 655.3L323.6 654M335.1 708.4L336.3 707.1L337.4 703.2L338.6 697.2L339.7 689.6L340.9 681.2L342 672.8L343.2 665.2L344.3 659.2L345.5 655.3L346.6 654M358.2 708.4L359.3 707.1L360.5 703.2L361.6 697.2L362.8 689.6L363.9 681.2L365.1 672.8L366.2 665.2L367.4 659.2L368.5 655.3L369.7 654M381.2 708.4L382.4 707.1L383.5 703.2L384.7 697.2L385.8 689.6L387 681.2L388.1 672.8L389.3 665.2L390.4 659.2L391.6 655.3L392.7 654M404.3 708.4L405.4 707.1L406.6 703.2L407.7 697.2L408.9 689.6L410 681.2L411.2 672.8L412.3 665.2L413.5 659.2L414.6 655.3L415.8 654M427.3 708.4L428.5 707.1L429.6 703.2L430.8 697.2L431.9 689.6L433.1 681.2L434.2 672.8L435.4 665.2L436.5 659.2L437.7 655.3L438.8 654M450.4 708.4L451.5 707.1L452.7 703.2L453.8 697.2L455 689.6L456.1 681.2L457.3 672.8L458.4 665.2L459.6 659.2L460.7 655.3L461.9 654M473.4 708.4L474.6 707.1L475.7 703.2L476.9 697.2L478 689.6L479.2 681.2L480.3 672.8L481.5 665.2L482.6 659.2L483.8 655.3L484.9 654" stroke="#4c4c4c" stroke-width="6.2"/>
  <path d="M266 708.4L267.1 707.1L268.3 703.2L269.4 697.2L270.6 689.6L271.7 681.2L272.9 672.8L274 665.2L275.2 659.2L276.3 655.3L277.5 654M289 708.4L290.2 707.1L291.3 703.2L292.5 697.2L293.6 689.6L294.8 681.2L295.9 672.8L297.1 665.2L298.2 659.2L299.4 655.3L300.5 654M312.1 708.4L313.2 707.1L314.4 703.2L315.5 697.2L316.7 689.6L317.8 681.2L319 672.8L320.1 665.2L321.3 659.2L322.4 655.3L323.6 654M335.1 708.4L336.3 707.1L337.4 703.2L338.6 697.2L339.7 689.6L340.9 681.2L342 672.8L343.2 665.2L344.3 659.2L345.5 655.3L346.6 654M358.2 708.4L359.3 707.1L360.5 703.2L361.6 697.2L362.8 689.6L363.9 681.2L365.1 672.8L366.2 665.2L367.4 659.2L368.5 655.3L369.7 654M381.2 708.4L382.4 707.1L383.5 703.2L384.7 697.2L385.8 689.6L387 681.2L388.1 672.8L389.3 665.2L390.4 659.2L391.6 655.3L392.7 654M404.3 708.4L405.4 707.1L406.6 703.2L407.7 697.2L408.9 689.6L410 681.2L411.2 672.8L412.3 665.2L413.5 659.2L414.6 655.3L415.8 654M427.3 708.4L428.5 707.1L429.6 703.2L430.8 697.2L431.9 689.6L433.1 681.2L434.2 672.8L435.4 665.2L436.5 659.2L437.7 655.3L438.8 654M450.4 708.4L451.5 707.1L452.7 703.2L453.8 697.2L455 689.6L456.1 681.2L457.3 672.8L458.4 665.2L459.6 659.2L460.7 655.3L461.9 654M473.4 708.4L474.6 707.1L475.7 703.2L476.9 697.2L478 689.6L479.2 681.2L480.3 672.8L481.5 665.2L482.6 659.2L483.8 655.3L484.9 654" stroke="#929292" stroke-width="3.6"/>
  <path d="M266 708.4L267.1 707.1L268.3 703.2L269.4 697.2L270.6 689.6L271.7 681.2L272.9 672.8L274 665.2L275.2 659.2L276.3 655.3L277.5 654M289 708.4L290.2 707.1L291.3 703.2L292.5 697.2L293.6 689.6L294.8 681.2L295.9 672.8L297.1 665.2L298.2 659.2L299.4 655.3L300.5 654M312.1 708.4L313.2 707.1L314.4 703.2L315.5 697.2L316.7 689.6L317.8 681.2L319 672.8L320.1 665.2L321.3 659.2L322.4 655.3L323.6 654M335.1 708.4L336.3 707.1L337.4 703.2L338.6 697.2L339.7 689.6L340.9 681.2L342 672.8L343.2 665.2L344.3 659.2L345.5 655.3L346.6 654M358.2 708.4L359.3 707.1L360.5 703.2L361.6 697.2L362.8 689.6L363.9 681.2L365.1 672.8L366.2 665.2L367.4 659.2L368.5 655.3L369.7 654M381.2 708.4L382.4 707.1L383.5 703.2L384.7 697.2L385.8 689.6L387 681.2L388.1 672.8L389.3 665.2L390.4 659.2L391.6 655.3L392.7 654M404.3 708.4L405.4 707.1L406.6 703.2L407.7 697.2L408.9 689.6L410 681.2L411.2 672.8L412.3 665.2L413.5 659.2L414.6 655.3L415.8 654M427.3 708.4L428.5 707.1L429.6 703.2L430.8 697.2L431.9 689.6L433.1 681.2L434.2 672.8L435.4 665.2L436.5 659.2L437.7 655.3L438.8 654M450.4 708.4L451.5 707.1L452.7 703.2L453.8 697.2L455 689.6L456.1 681.2L457.3 672.8L458.4 665.2L459.6 659.2L460.7 655.3L461.9 654M473.4 708.4L474.6 707.1L475.7 703.2L476.9 697.2L478 689.6L479.2 681.2L480.3 672.8L481.5 665.2L482.6 659.2L483.8 655.3L484.9 654" stroke="#e2e2e2" stroke-width="1.3"/>
</g>
<!-- long screw -->
<linearGradient id="gBolt" x1="0" y1="0" x2="0" y2="1">
  <stop offset="0" stop-color="#d2d2d2"/><stop offset="0.18" stop-color="#ececec"/><stop offset="0.45" stop-color="#e0e0e0"/><stop offset="0.62" stop-color="#f4f4f4"/><stop offset="0.8" stop-color="#cfcfcf"/><stop offset="1" stop-color="#bdbdbd"/>
</linearGradient>
<pattern id="thr2" patternUnits="userSpaceOnUse" width="4.4" height="50" patternTransform="skewX(-4)">
  <rect x="0" width="1.5" height="50" fill="#9a9a9a" opacity="0.7"/>
</pattern>
<path d="M244 779H537Q545 779 545 787V816Q545 824 537 824H244Z" fill="url(#gBolt)"/>
<path d="M248 779H537Q545 779 545 787V816Q545 824 537 824H248Z" fill="url(#thr2)"/>
<path d="M250 801H540" stroke="#fff" stroke-width="4.5" stroke-dasharray="7 3 12 4 5 6 16 3 9 5" opacity="0.4" fill="none"/>
<linearGradient id="gBoltEnd" gradientUnits="userSpaceOnUse" x1="470" y1="0" x2="545" y2="0"><stop offset="0" stop-color="#000" stop-opacity="0"/><stop offset="0.8" stop-color="#000" stop-opacity="0.12"/><stop offset="1" stop-color="#000" stop-opacity="0.3"/></linearGradient>
<path d="M470 779H537Q545 779 545 787V816Q545 824 537 824H470Z" fill="url(#gBoltEnd)"/>
<path d="M216 763H241L244 778V819L241 843H216L214 819V778Z" fill="#ececec"/>
<path d="M214 778H244V819H214Z" fill="#f3f3f3"/>
<path d="M214 778H244M214 819H244" stroke="#bcbcbc" stroke-width="1.5" fill="none"/>
<path d="M216 763H241L244 778V819L241 843H216L214 819V778Z" fill="none" stroke="#d0d0d0" stroke-width="1"/>
<!-- gaskets -->
<circle cx="1086.5" cy="743.5" r="38.2" fill="none" stroke="#434343" stroke-width="33.6"/>
<circle cx="1086.5" cy="869.5" r="38.2" fill="none" stroke="#c9c9c9" stroke-width="33.6"/>
<!-- locking knob -->
<linearGradient id="gLk" gradientUnits="userSpaceOnUse" x1="0" y1="670" x2="0" y2="936">
  <stop offset="0" stop-color="#2c2c2c"/><stop offset="0.06" stop-color="#262626"/><stop offset="0.3" stop-color="#1a1a1a"/><stop offset="0.55" stop-color="#202020"/><stop offset="0.75" stop-color="#262626"/><stop offset="0.9" stop-color="#1e1e1e"/><stop offset="0.915" stop-color="#3a3a3a"/><stop offset="1" stop-color="#343434"/>
</linearGradient>
<path d="M1179 750Q1180 738 1188 738H1212V678Q1212 670.6 1220 670.6H1305Q1314 671 1315 680L1320.6 905Q1321 915 1318 925Q1316 936 1306 936L1226 933.5Q1217.5 933 1217.3 925L1216.5 867H1190Q1180 866 1178 850Q1176 800 1179 750Z" fill="url(#gLk)"/>
<linearGradient id="gLkCyl" gradientUnits="userSpaceOnUse" x1="0" y1="738" x2="0" y2="868"><stop offset="0" stop-color="#323232"/><stop offset="0.25" stop-color="#262626"/><stop offset="0.6" stop-color="#1c1c1c"/><stop offset="1" stop-color="#141414"/></linearGradient>
<path d="M1179 750Q1180 738 1188 738H1212.5V833H1216.5V867H1190Q1180 866 1178 850Q1176 800 1179 750Z" fill="url(#gLkCyl)"/>
<ellipse cx="1184.5" cy="802" rx="7" ry="63" fill="#1a1a1a" stroke="#2e2e2e" stroke-width="1"/>
<ellipse cx="1183.5" cy="802" rx="4.2" ry="52" fill="#0a0a0a"/>
<path d="M1216.5 833V866" stroke="#0c0c0c" stroke-width="1.4" fill="none"/>
<path d="M1181 790Q1179 802 1181 815" stroke="#6a6a6a" stroke-width="1.6" fill="none"/>
<path d="M1265 672L1270 912" stroke="#4a4a4a" stroke-width="1" fill="none"/>


<g id="labels">
  <path class="ln" d="M427 210.4H703"/>
  <path class="ln" d="M427 511.5H629"/>
  <path class="ln" d="M427 1146.5H747"/>
  <path class="ln" d="M358 817V942.7"/>
  <path class="ln" d="M804 434.3H1132.9"/>
  <path class="ln" d="M1088.7 691V604.5H1275.7"/>
  <path class="ln" d="M1273.5 933V1068.7"/>
  <path class="ln" d="M940.5 1373.4H1177.5"/>
  <use href="#dot" x="703.7" y="207.6"/>
  <use href="#dot" x="629.4" y="508.8"/>
  <use href="#dot" x="746.6" y="1144.4"/>
  <use href="#dot" x="358" y="817.5"/>
  <use href="#dot" x="804.5" y="432"/>
  <use href="#dot" x="1088.5" y="690.7"/>
  <use href="#dot" x="1273.5" y="933"/>
  <use href="#dot" x="940.3" y="1371"/>
  <text class="lbl" x="418.5" y="220.7" text-anchor="end">Strong clamp</text>
  <text class="lbl" x="418.5" y="525.7" text-anchor="end">Support rod</text>
  <text class="lbl" x="418.5" y="1160.7" text-anchor="end">Connection ball</text>
  <text class="lbl" x="229.8" y="982.9">Long screw</text>
  <text class="lbl" x="1147.2" y="450">Connection ball</text>
  <text class="lbl" x="1291.4" y="620">Gasket</text>
  <text class="lbl" x="1159.2" y="1116">Locking knob</text>
  <text class="lbl" x="1185" y="1388.9">Strong clamp</text>
</g>
</svg>
</body>
</html>
